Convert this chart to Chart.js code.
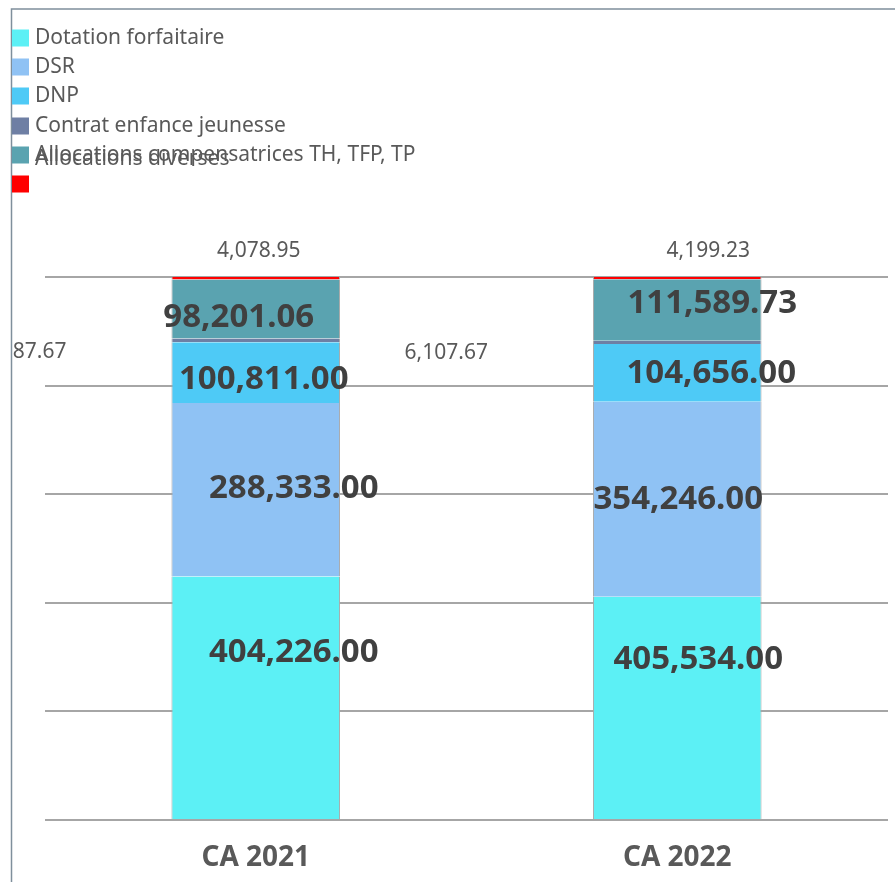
<!DOCTYPE html>
<html>
<head>
<meta charset="utf-8">
<script src="https://cdn.jsdelivr.net/npm/chart.js@4/dist/chart.umd.min.js"></script>
<style>
html,body{margin:0;padding:0;background:#fff;}
canvas{display:block;}
</style>
</head>
<body>
<canvas id="c" width="895" height="882"></canvas>
<script>
// ---- data ----
const categories = ['CA 2021', 'CA 2022'];
const seriesNames = ['Dotation forfaitaire', 'DSR', 'DNP', 'Contrat enfance jeunesse', 'Allocations compensatrices TH, TFP, TP', 'Allocations diverses'];
const dotationForfaitaire = [404226.00, 405534.00];
const dsr = [288333.00, 354246.00];
const dnp = [100811.00, 104656.00];
const contratEnfanceJeunesse = [6087.67, 6107.67];
const allocationsCompensatrices = [98201.06, 111589.73];
const allocationsDiverses = [4078.95, 4199.23];
const yTicks = [0, 20, 40, 60, 80, 100];

// ---- style ----
const colors = ['#5cf0f5', '#8fc2f4', '#4ecaf6', '#6e7fa4', '#5aa3b0', '#ff0000'];
// label style per dataset: kind and offsets [dx, dy] per category
const labelStyle = [
  {kind: 'big', off: [[38, -45], [21, -48]]},
  {kind: 'big', off: [[38, -1], [1, 0]]},
  {kind: 'big', off: [[8, 7], [34, 1]]},
  {kind: 'small', off: [[-231, 12], [-231, 11]]},
  {kind: 'big', off: [[-17, 9], [35, -6]]},
  {kind: 'top', off: [[3, -26], [31, -26]]}
];

const raw = [dotationForfaitaire, dsr, dnp, contratEnfanceJeunesse, allocationsCompensatrices, allocationsDiverses];
const totals = categories.map((_, j) => raw.reduce((s, arr) => s + arr[j], 0));

const datasets = raw.map((arr, i) => ({
  label: seriesNames[i],
  data: arr.map((v, j) => v / totals[j] * 100),
  rawValues: arr,
  backgroundColor: colors[i],
  borderColor: '#a8a8a8',
  borderWidth: {left: 1, right: 1, top: 0, bottom: 0},
  borderSkipped: false,
  barPercentage: 0.4,
  categoryPercentage: 1.0
}));

const FONT = '"Noto Sans", "Open Sans", sans-serif';
const fmt = v => v.toLocaleString('en-US', {minimumFractionDigits: 2, maximumFractionDigits: 2});

const framePlugin = {
  id: 'frame',
  beforeDraw(chart) {
    const ctx = chart.ctx;
    ctx.save();
    ctx.fillStyle = '#ffffff';
    ctx.fillRect(0, 0, chart.width, chart.height);
    ctx.strokeStyle = '#7f8f9c';
    ctx.lineWidth = 1.5;
    ctx.beginPath();
    ctx.moveTo(11.5, chart.height);
    ctx.lineTo(11.5, 9);
    ctx.lineTo(chart.width, 9);
    ctx.stroke();
    ctx.restore();
  }
};

const legendPlugin = {
  id: 'customLegend',
  afterDraw(chart) {
    const ctx = chart.ctx;
    ctx.save();
    const rowY = [38, 67, 96, 126, 155, 184];
    chart.data.datasets.forEach((ds, i) => {
      ctx.fillStyle = ds.backgroundColor;
      ctx.fillRect(12, rowY[i] - 8.5, 17, 17);
    });
    ctx.font = '21px ' + FONT;
    ctx.fillStyle = '#595959';
    ctx.textBaseline = 'middle';
    ctx.textAlign = 'left';
    chart.data.datasets.forEach((ds, i) => {
      // last label overlaps the previous row in the reference
      const y = i === 5 ? rowY[4] + 4 : rowY[i];
      ctx.fillText(ds.label, 35, y);
    });
    ctx.restore();
  }
};

const labelsPlugin = {
  id: 'valueLabels',
  afterDatasetsDraw(chart) {
    const ctx = chart.ctx;
    ctx.save();
    ctx.beginPath();
    ctx.rect(12, 10, chart.width - 12, chart.height - 10);
    ctx.clip();
    ctx.textAlign = 'center';
    ctx.textBaseline = 'middle';
    chart.data.datasets.forEach((ds, i) => {
      const meta = chart.getDatasetMeta(i);
      const st = labelStyle[i];
      meta.data.forEach((el, j) => {
        const txt = fmt(ds.rawValues[j]);
        const [dx, dy] = st.off[j];
        let x = el.x + dx, y;
        if (st.kind === 'top') {
          y = el.y + dy;
        } else {
          y = (el.y + el.base) / 2 + dy;
        }
        if (st.kind === 'big') {
          ctx.font = 'bold 33px ' + FONT;
          ctx.fillStyle = '#404040';
        } else {
          ctx.font = '21px ' + FONT;
          ctx.fillStyle = '#595959';
        }
        ctx.fillText(txt, x, y);
      });
    });
    ctx.restore();
  }
};

new Chart(document.getElementById('c'), {
  type: 'bar',
  data: {labels: categories, datasets},
  options: {
    responsive: false,
    animation: false,
    layout: {padding: {left: 45, right: 7, top: 277, bottom: 10}},
    plugins: {legend: {display: false}, tooltip: {enabled: false}},
    scales: {
      x: {
        stacked: true,
        grid: {display: false},
        border: {display: false},
        ticks: {font: {family: FONT, size: 28, weight: 'bold'}, color: '#595959', padding: 13},
        afterFit(scale) { scale.height = 52; }
      },
      y: {
        stacked: true,
        min: 0,
        max: 100,
        afterBuildTicks(scale) { scale.ticks = yTicks.map(v => ({value: v})); },
        ticks: {display: false},
        grid: {color: '#a6a6a6', lineWidth: 2, drawTicks: false},
        border: {display: false}
      }
    }
  },
  plugins: [framePlugin, labelsPlugin, legendPlugin]
});
</script>
</body>
</html>
